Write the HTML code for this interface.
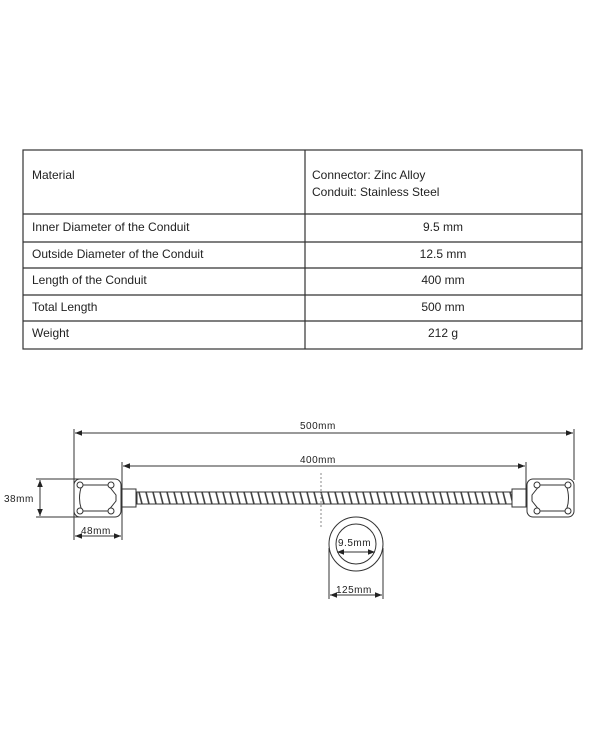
<!DOCTYPE html>
<html><head><meta charset="utf-8"><style>
html,body{margin:0;padding:0;background:#fff;}
svg{display:block;}
text{font-family:"Liberation Sans",sans-serif;}
</style></head><body>
<svg width="600" height="741" viewBox="0 0 600 741" xmlns="http://www.w3.org/2000/svg">
<defs>
<pattern id="tw" x="137" y="492" width="7" height="12" patternUnits="userSpaceOnUse">
<rect width="7" height="12" fill="#fff"/>
<path d="M2 0 L5 12" stroke="#444" stroke-width="1.6"/>
</pattern>
<marker id="a" viewBox="0 0 10 10" refX="10" refY="5" markerWidth="7" markerHeight="7" orient="auto-start-reverse"><path d="M0 1 L10 5 L0 9 z" fill="#222"/></marker>
</defs>
<!-- table -->
<g stroke="#333" stroke-width="1.2" fill="none">
<rect x="23" y="150" width="559" height="199"/>
<line x1="305" y1="150" x2="305" y2="349"/>
<line x1="23" y1="214" x2="582" y2="214"/>
<line x1="23" y1="242" x2="582" y2="242"/>
<line x1="23" y1="268" x2="582" y2="268"/>
<line x1="23" y1="295" x2="582" y2="295"/>
<line x1="23" y1="321" x2="582" y2="321"/>
</g>
<g font-size="12" fill="#222">
<text x="32" y="179">Material</text>
<text x="312" y="179">Connector: Zinc Alloy</text>
<text x="312" y="196">Conduit: Stainless Steel</text>
<text x="32" y="231">Inner Diameter of the Conduit</text>
<text x="32" y="258">Outside Diameter of the Conduit</text>
<text x="32" y="284">Length of the Conduit</text>
<text x="32" y="311">Total Length</text>
<text x="32" y="337">Weight</text>
<g text-anchor="middle">
<text x="443" y="231">9.5 mm</text>
<text x="443" y="258">12.5 mm</text>
<text x="443" y="284">400 mm</text>
<text x="443" y="311">500 mm</text>
<text x="443" y="337">212 g</text>
</g>
</g>
<!-- diagram -->
<g stroke="#333" stroke-width="1" fill="none">
<line x1="74" y1="429" x2="74" y2="540"/>
<line x1="574" y1="429" x2="574" y2="480"/>
<line x1="75" y1="433" x2="573" y2="433" marker-start="url(#a)" marker-end="url(#a)"/>
<line x1="122" y1="462" x2="122" y2="540"/>
<line x1="526" y1="462" x2="526" y2="489"/>
<line x1="123" y1="466" x2="525" y2="466" marker-start="url(#a)" marker-end="url(#a)"/>
<line x1="36" y1="479" x2="80" y2="479"/>
<line x1="36" y1="517" x2="80" y2="517"/>
<line x1="40" y1="480" x2="40" y2="516" marker-start="url(#a)" marker-end="url(#a)"/>
<line x1="75" y1="536" x2="121" y2="536" marker-start="url(#a)" marker-end="url(#a)"/>
<!-- connectors -->
<rect x="74" y="479" width="47" height="38" rx="6"/>
<path d="M82 485 L108 485 L116 495 L116 501 L108 511 L82 511 Q77 498 82 485 Z"/>
<circle cx="80" cy="485" r="3" fill="#fff"/><circle cx="111" cy="485" r="3" fill="#fff"/>
<circle cx="80" cy="511" r="3" fill="#fff"/><circle cx="111" cy="511" r="3" fill="#fff"/>
<rect x="122" y="489" width="14" height="18" fill="#fff"/>
<rect x="527" y="479" width="47" height="38" rx="6"/>
<path d="M566 485 L540 485 L532 495 L532 501 L540 511 L566 511 Q571 498 566 485 Z"/>
<circle cx="537" cy="485" r="3" fill="#fff"/><circle cx="568" cy="485" r="3" fill="#fff"/>
<circle cx="537" cy="511" r="3" fill="#fff"/><circle cx="568" cy="511" r="3" fill="#fff"/>
<rect x="512" y="489" width="14" height="18" fill="#fff"/>
<rect x="137" y="492" width="375" height="12" fill="url(#tw)"/>
<line x1="321" y1="473" x2="321" y2="527" stroke-dasharray="2 2" stroke="#888"/>
<!-- cross-section -->
<circle cx="356" cy="544" r="27"/>
<circle cx="356" cy="544" r="20"/>
<line x1="337" y1="552" x2="375" y2="552" marker-start="url(#a)" marker-end="url(#a)"/>
<line x1="329" y1="548" x2="329" y2="599"/>
<line x1="383" y1="548" x2="383" y2="599"/>
<line x1="330" y1="595" x2="382" y2="595" marker-start="url(#a)" marker-end="url(#a)"/>
</g>
<g font-size="10" fill="#222" letter-spacing="0.5">
<text x="300" y="429">500mm</text>
<text x="300" y="463">400mm</text>
<text x="4" y="502">38mm</text>
<text x="81" y="534">48mm</text>
<text x="338" y="546">9.5mm</text>
<text x="336" y="593">125mm</text>
</g>
</svg>
</body></html>
